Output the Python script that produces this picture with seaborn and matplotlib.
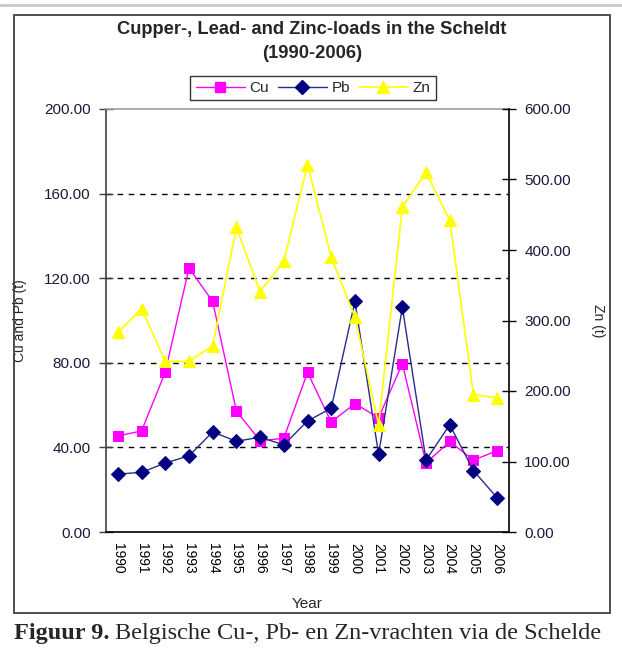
import numpy as np
import pandas as pd
import seaborn as sns
import matplotlib
matplotlib.use("Agg")
import matplotlib.pyplot as plt
from matplotlib.patches import Rectangle
from matplotlib.lines import Line2D

# ---- data ----
years = ["1990", "1991", "1992", "1993", "1994", "1995", "1996", "1997", "1998",
         "1999", "2000", "2001", "2002", "2003", "2004", "2005", "2006"]
cu = [45.4, 47.8, 75.6, 124.8, 109.0, 57.2, 43.2, 44.3, 75.5,
      52.0, 60.7, 54.0, 79.6, 32.6, 42.8, 34.0, 38.4]
pb = [27.4, 28.2, 32.6, 36.0, 47.3, 42.9, 44.8, 41.2, 52.5,
      58.5, 109.0, 36.7, 106.3, 34.0, 50.7, 29.0, 16.2]
zn = [283.0, 317.0, 242.0, 242.0, 264.0, 432.0, 341.0, 384.0, 521.0,
      390.0, 305.0, 152.0, 461.0, 510.0, 442.0, 195.0, 190.0]
left_ticks = [0, 40, 80, 120, 160, 200]
right_ticks = [0, 100, 200, 300, 400, 500, 600]

df = pd.DataFrame({"pos": np.arange(len(years)), "year": years,
                   "Cu": cu, "Pb": pb, "Zn": zn})

sns.set_style("white")
plt.rcParams["font.family"] = ["Liberation Sans", "DejaVu Sans"]

W, H = 622, 648
fig = plt.figure(figsize=(W / 100, H / 100), dpi=100)
fig.patch.set_facecolor("white")

ax = fig.add_axes([106 / W, 1 - 532 / H, 403 / W, 423 / H])
ax2 = ax.twinx()

c_cu, c_pb, c_pb_line, c_zn = "#FF00FF", "#000080", "#2B2B8C", "#FFFF00"

sns.lineplot(data=df, x="pos", y="Cu", ax=ax, color=c_cu, marker="s",
             markersize=7.5, markeredgecolor=c_cu, linewidth=1.0, zorder=3)
sns.lineplot(data=df, x="pos", y="Pb", ax=ax, color=c_pb_line, marker="D",
             markersize=7, markerfacecolor=c_pb, markeredgecolor=c_pb,
             linewidth=1.0, zorder=4)
sns.lineplot(data=df, x="pos", y="Zn", ax=ax2, color=c_zn, marker="^",
             markersize=9, markeredgecolor=c_zn, linewidth=1.2, zorder=3)

tick_color = "#1a1a3a"

# left axis
ax.set_ylim(0, 200)
ax.set_yticks(left_ticks)
ax.set_yticklabels([f"{v:.2f}" for v in left_ticks], fontsize=11, color=tick_color)
ax.tick_params(axis="y", direction="inout", length=10, width=1, pad=6, colors="#404040",
               labelcolor=tick_color)
ax.grid(axis="y", linestyle=(0, (4, 4)), color="black", linewidth=1.0)
ax.grid(axis="x", visible=False)
glines = ax.get_ygridlines()
glines[0].set_visible(False)
glines[-1].set_visible(False)

# right axis
ax2.set_ylim(0, 600)
ax2.set_yticks(right_ticks)
ax2.set_yticklabels([f"{v:.2f}" for v in right_ticks], fontsize=11, color=tick_color)
ax2.tick_params(axis="y", direction="inout", length=10, width=1, pad=6, colors="black",
                labelcolor=tick_color)
ax2.grid(False)

# x axis
ax.set_xlim(-0.5, len(years) - 0.5)
ax.set_xticks(df["pos"])
ax.set_xticklabels(years, rotation=270, fontsize=10, color="black")
ax.tick_params(axis="x", which="major", length=0, pad=8)
ax.set_xticks(np.arange(-0.5, len(years), 1.0), minor=True)
ax.tick_params(axis="x", which="minor", direction="inout", length=10, width=1, colors="black")

# spines
for a in (ax, ax2):
    for s in a.spines.values():
        s.set_linewidth(1.2)
ax.spines["top"].set_color("#a0a0a0")
ax.spines["left"].set_color("#404040")
ax.spines["bottom"].set_color("black")
ax.spines["right"].set_visible(False)
ax2.spines["left"].set_visible(False)
ax2.spines["top"].set_visible(False)
ax2.spines["bottom"].set_visible(False)
ax2.spines["right"].set_color("black")

# axis labels
ax.set_xlabel("Year", fontsize=11)
ax.xaxis.set_label_coords(0.5, -(597 - 532) / 423)
ax.set_ylabel("Cu and Pb (t)", fontsize=10)
ax.yaxis.set_label_coords((27 - 106) / 403, 0.5)
ax2.set_ylabel("Zn (t)", fontsize=10, rotation=270, va="center")
ax2.yaxis.set_label_coords((598 - 106) / 403, 0.5)

# legend
handles = [
    Line2D([], [], color=c_cu, marker="s", markersize=7.5, markeredgecolor=c_cu, lw=1.0),
    Line2D([], [], color=c_pb_line, marker="D", markersize=7, markerfacecolor=c_pb,
           markeredgecolor=c_pb, lw=1.0),
    Line2D([], [], color=c_zn, marker="^", markersize=9, markeredgecolor=c_zn, lw=1.2),
]
leg = ax.legend(handles, ["Cu", "Pb", "Zn"], ncol=3, loc="center",
                bbox_to_anchor=(313 / W, 1 - 88 / H), bbox_transform=fig.transFigure,
                frameon=True, fancybox=False, edgecolor="black", fontsize=11,
                handlelength=3.2, handletextpad=0.3, columnspacing=0.6,
                borderpad=0.35, borderaxespad=0)
leg.get_frame().set_linewidth(1.0)

# title
fig.text(312 / W, 1 - 30 / H, "Cupper-, Lead- and Zinc-loads in the Scheldt",
         ha="center", va="center", fontsize=13.2, fontweight="bold")
fig.text(312 / W, 1 - 53 / H, "(1990-2006)",
         ha="center", va="center", fontsize=13.2, fontweight="bold")

# chart border and top rule
fig.patches.append(Rectangle((14 / W, 1 - 613 / H), (610 - 14) / W, (613 - 15) / H,
                             transform=fig.transFigure, fill=False,
                             edgecolor="#404040", linewidth=1.3))
fig.add_artist(Line2D([0, 1], [1 - 5 / H, 1 - 5 / H], transform=fig.transFigure,
                      color="#c8c8c8", linewidth=2))

# caption
t1 = fig.text(14 / W, 1 - 634 / H, "Figuur 9.", ha="left", va="center",
              fontsize=17.5, fontweight="bold", family=["Liberation Serif"])
ax.annotate("Belgische Cu-, Pb- en Zn-vrachten via de Schelde",
            xy=(1, 0.5), xycoords=t1, xytext=(4, 0), textcoords="offset points",
            ha="left", va="center", fontsize=17.5, family=["Liberation Serif"],
            annotation_clip=False)

fig.savefig("out.png", dpi=100, facecolor="white")
